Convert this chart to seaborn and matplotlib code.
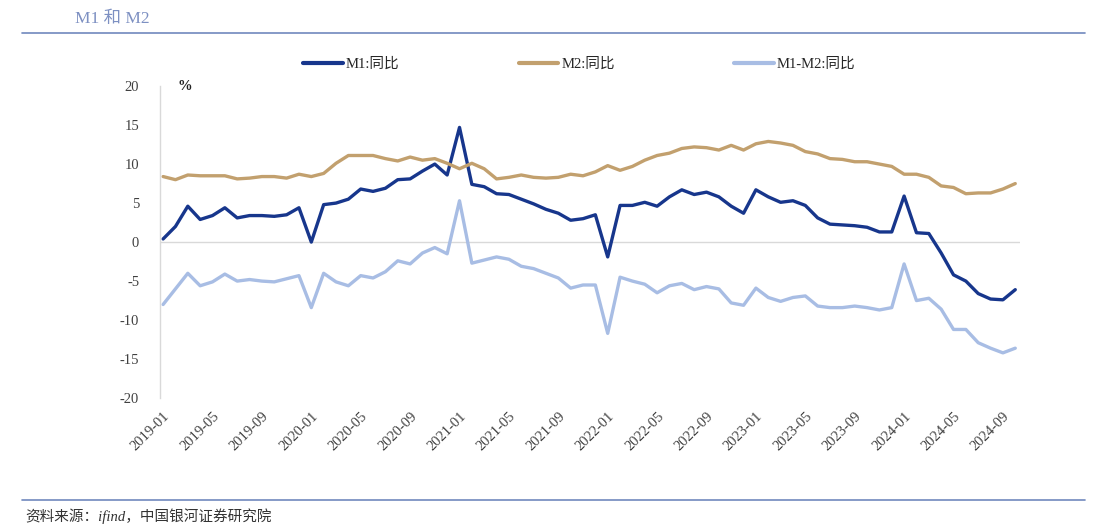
import pandas as pd
import matplotlib
matplotlib.use('Agg')
import matplotlib.pyplot as plt
import seaborn as sns

# 数据：2019-01 ~ 2024-10 月度同比（%）
months = pd.period_range('2019-01', '2024-10', freq='M').strftime('%Y-%m').tolist()

m1 = [0.4, 2.0, 4.6, 2.9, 3.4, 4.4, 3.1, 3.4, 3.4, 3.3, 3.5, 4.4,
      0.0, 4.8, 5.0, 5.5, 6.8, 6.5, 6.9, 8.0, 8.1, 9.1, 10.0, 8.6,
      14.7, 7.4, 7.1, 6.2, 6.1, 5.5, 4.9, 4.2, 3.7, 2.8, 3.0, 3.5,
      -1.9, 4.7, 4.7, 5.1, 4.6, 5.8, 6.7, 6.1, 6.4, 5.8, 4.6, 3.7,
      6.7, 5.8, 5.1, 5.3, 4.7, 3.1, 2.3, 2.2, 2.1, 1.9, 1.3, 1.3,
      5.9, 1.2, 1.1, -1.4, -4.2, -5.0, -6.6, -7.3, -7.4, -6.1]

m2 = [8.4, 8.0, 8.6, 8.5, 8.5, 8.5, 8.1, 8.2, 8.4, 8.4, 8.2, 8.7,
      8.4, 8.8, 10.1, 11.1, 11.1, 11.1, 10.7, 10.4, 10.9, 10.5, 10.7, 10.1,
      9.4, 10.1, 9.4, 8.1, 8.3, 8.6, 8.3, 8.2, 8.3, 8.7, 8.5, 9.0,
      9.8, 9.2, 9.7, 10.5, 11.1, 11.4, 12.0, 12.2, 12.1, 11.8, 12.4, 11.8,
      12.6, 12.9, 12.7, 12.4, 11.6, 11.3, 10.7, 10.6, 10.3, 10.3, 10.0, 9.7,
      8.7, 8.7, 8.3, 7.2, 7.0, 6.2, 6.3, 6.3, 6.8, 7.5]

m1_m2 = [-8.0, -6.0, -4.0, -5.6, -5.1, -4.1, -5.0, -4.8, -5.0, -5.1, -4.7, -4.3,
         -8.4, -4.0, -5.1, -5.6, -4.3, -4.6, -3.8, -2.4, -2.8, -1.4, -0.7, -1.5,
         5.3, -2.7, -2.3, -1.9, -2.2, -3.1, -3.4, -4.0, -4.6, -5.9, -5.5, -5.5,
         -11.7, -4.5, -5.0, -5.4, -6.5, -5.6, -5.3, -6.1, -5.7, -6.0, -7.8, -8.1,
         -5.9, -7.1, -7.6, -7.1, -6.9, -8.2, -8.4, -8.4, -8.2, -8.4, -8.7, -8.4,
         -2.8, -7.5, -7.2, -8.6, -11.2, -11.2, -12.9, -13.6, -14.2, -13.6]

series_names = ['M1:同比', 'M2:同比', 'M1-M2:同比']
colors = ['#17368c', '#c2a06e', '#a8bde4']

df = pd.DataFrame({'idx': range(len(months)), 'month': months,
                   'M1:同比': m1, 'M2:同比': m2, 'M1-M2:同比': m1_m2})
long = df.melt(id_vars=['idx', 'month'], value_vars=series_names,
               var_name='series', value_name='value')

sns.set_theme(style='white')
plt.rcParams['font.family'] = ['Liberation Serif', 'Noto Sans CJK SC', 'DejaVu Sans']
plt.rcParams['axes.unicode_minus'] = False

fig = plt.figure(figsize=(10.93, 5.28), dpi=100)
ax = fig.add_axes([0.1464, 0.246, 0.787, 0.591])

sns.lineplot(data=long, x='idx', y='value', hue='series', hue_order=series_names,
             palette=colors, linewidth=2.4, ax=ax, legend=False)

ax.axhline(0, color='#d9d9d9', linewidth=1, zorder=0)
ax.set_xlim(-0.25, 69.4)
ax.set_ylim(-20, 20)
ax.set_yticks(range(-20, 21, 5))
ax.set_yticklabels([str(v) for v in range(-20, 21, 5)])
tick_idx = list(range(0, len(months), 4))
ax.set_xticks(tick_idx)
ax.set_xticklabels([months[i] for i in tick_idx], rotation=45, ha='right',
                   rotation_mode='anchor')
ax.tick_params(axis='both', length=0, labelsize=10.5, labelcolor='#404040')
ax.tick_params(axis='y', pad=15)
ax.tick_params(axis='x', pad=8)
ax.set_xlabel('')
ax.set_ylabel('')
for s in ['top', 'right', 'bottom']:
    ax.spines[s].set_visible(False)
ax.spines['left'].set_color('#d9d9d9')
ax.spines['left'].set_linewidth(1)

ax.text(0.02, 1.0, '%', transform=ax.transAxes, fontsize=10.5, fontweight='bold',
        color='#222222', va='center', ha='left')

# 图例
handles = [plt.Line2D([0], [0], color=c, linewidth=3) for c in colors]
fig.legend(handles, series_names, loc='center', bbox_to_anchor=(0.53, 0.878),
           ncol=3, frameon=False, fontsize=10.5, handlelength=2.7,
           handletextpad=0.2, columnspacing=8.2)

# 标题与页眉页脚线
fig.text(0.069, 0.964, 'M1 和 M2', fontsize=12.5, color='#7d90c2', va='center', ha='left')
fig.add_artist(plt.Line2D([0.02, 0.993], [0.937, 0.937], color='#7189bd', linewidth=1.2))
fig.add_artist(plt.Line2D([0.02, 0.993], [0.053, 0.053], color='#7189bd', linewidth=1.2))
fig.text(0.023, 0.023, '资料来源：ifind，中国银河证券研究院', fontsize=10.5, style='italic',
         color='#333333', va='center', ha='left')

fig.savefig('out.png', dpi=100)
